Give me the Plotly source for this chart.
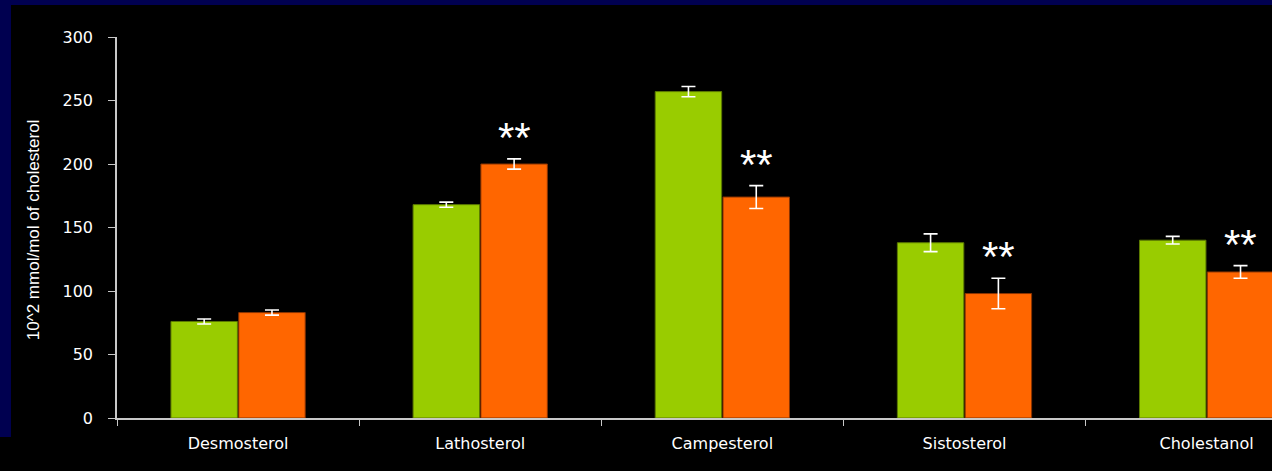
import plotly.graph_objects as go

categories = ["Desmosterol", "Lathosterol", "Campesterol", "Sistosterol", "Cholestanol"]
green_vals = [76, 168, 257, 138, 140]
green_err = [2, 2, 4, 7, 3]
orange_vals = [83, 200, 174, 98, 115]
orange_err = [2, 4, 9, 12, 5]
significance = ["", "**", "**", "**", "**"]
y_ticks = [0, 50, 100, 150, 200, 250, 300]

GREEN = "#99CC00"
ORANGE = "#FF6600"
NAVY = "#000050"
FONT = "DejaVu Sans, Liberation Sans, Arial, sans-serif"

fig = go.Figure()
fig.add_trace(go.Bar(
    x=categories, y=green_vals, name="green",
    marker=dict(color=GREEN, line=dict(color="#5c7a00", width=1)),
    error_y=dict(type="data", array=green_err, visible=True, color="white", thickness=1.6, width=7),
))
fig.add_trace(go.Bar(
    x=categories, y=orange_vals, name="orange",
    marker=dict(color=ORANGE, line=dict(color="#8a3300", width=1)),
    error_y=dict(type="data", array=orange_err, visible=True, color="white", thickness=1.6, width=7),
))

annotations = []
for i, s in enumerate(significance):
    if s:
        annotations.append(dict(
            x=i + 0.14, y=orange_vals[i] + orange_err[i], xref="x", yref="y",
            text=s, showarrow=False, yanchor="bottom", yshift=-4,
            font=dict(family="Liberation Sans, Arial", size=42, color="white"),
        ))

annotations.append(dict(
    x=-0.0727, y=0.493, xref="paper", yref="paper", text="10^2 mmol/mol of cholesterol",
    textangle=-90, showarrow=False, xanchor="center", yanchor="middle",
    font=dict(family="Liberation Sans, Arial", size=17, color="white"),
))

shapes = [
    dict(type="rect", xref="paper", yref="paper", x0=-0.11, x1=1.01, y0=1.084, y1=1.11,
         fillcolor=NAVY, line=dict(width=0), layer="below"),
    dict(type="rect", xref="paper", yref="paper", x0=-0.11, x1=-0.0918, y0=-0.0499, y1=1.11,
         fillcolor=NAVY, line=dict(width=0), layer="below"),
]

fig.update_layout(
    width=1272, height=471,
    margin=dict(l=117, r=0, t=37, b=53),
    paper_bgcolor="black", plot_bgcolor="black",
    barmode="group", bargap=0.44, bargroupgap=0.02,
    showlegend=False,
    annotations=annotations, shapes=shapes,
    xaxis=dict(
        type="category", range=[-0.5, 4.27],
        showline=True, linecolor="#c8c8c8", linewidth=1.5,
        ticks="outside", tickson="boundaries", ticklen=6, tickcolor="#c8c8c8",
        tickfont=dict(family=FONT, size=16, color="white"),
        showgrid=False, zeroline=False, ticklabelstandoff=10,
    ),
    yaxis=dict(
        range=[0, 300], tickvals=y_ticks,
        showline=True, linecolor="#c8c8c8", linewidth=1.5,
        ticks="outside", ticklen=7, tickcolor="#c8c8c8",
        tickfont=dict(family=FONT, size=16, color="white"),
        showgrid=False, zeroline=False, ticklabelstandoff=12,
    ),
)

fig.write_html("out.html")
